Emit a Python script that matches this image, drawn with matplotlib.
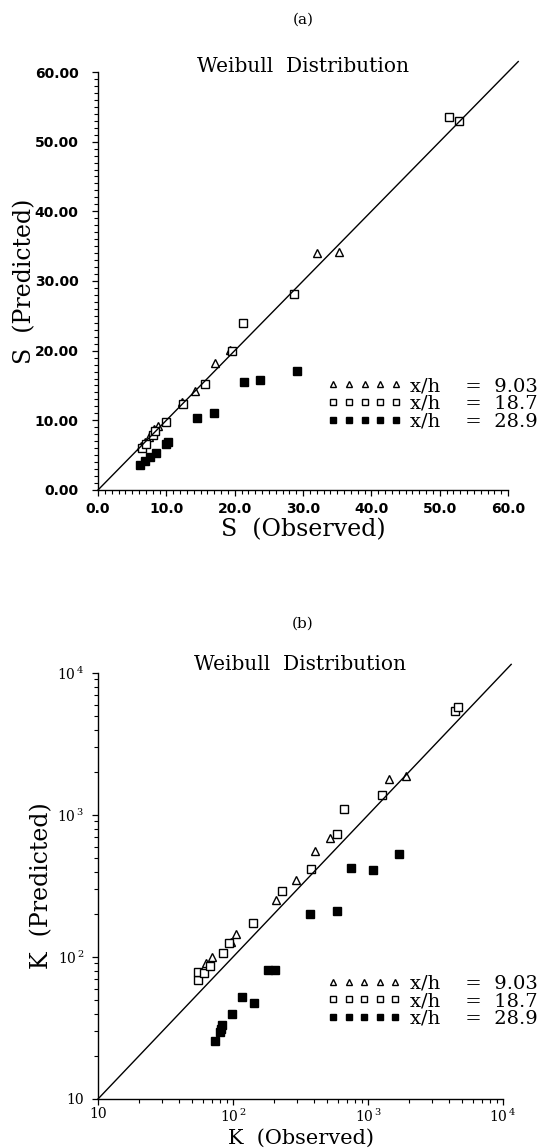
import numpy as np
import matplotlib
matplotlib.use('Agg')
import matplotlib.pyplot as plt
from matplotlib.ticker import MultipleLocator, FormatStrFormatter, LogLocator, FixedLocator, FixedFormatter, NullFormatter

plt.rcParams['mathtext.fontset'] = 'dejavuserif'

# (a) S, observed vs predicted
s_obs_903 = [6.3, 6.9, 7.5, 8.2, 8.8, 12.3, 14.2, 17.1, 19.3, 32.0, 35.3]
s_pred_903 = [6.3, 6.9, 7.6, 8.7, 9.2, 12.6, 14.2, 18.3, 20.1, 34.0, 34.1]
s_obs_187 = [6.4, 7.0, 8.0, 8.3, 9.9, 12.4, 15.7, 19.6, 21.2, 28.7, 51.4, 52.9]
s_pred_187 = [6.1, 6.6, 7.9, 8.5, 9.8, 12.4, 15.2, 19.9, 24.0, 28.1, 53.6, 52.9]
s_obs_289 = [6.2, 6.9, 7.6, 8.5, 10.0, 10.3, 14.5, 17.0, 21.4, 23.7, 29.1]
s_pred_289 = [3.6, 4.2, 4.7, 5.3, 6.6, 6.9, 10.4, 11.0, 15.5, 15.8, 17.1]

# (b) K, observed vs predicted
k_obs_903 = [63, 70, 96, 105, 210, 292, 404, 527, 1426, 1896]
k_pred_903 = [91, 100, 127, 145, 251, 347, 561, 690, 1795, 1875]
k_obs_187 = [55, 55, 61, 67, 85, 93, 141, 229, 381, 585, 665, 1280, 4395, 4645]
k_pred_187 = [69, 79, 77, 87, 107, 125, 174, 290, 417, 739, 1104, 1393, 5370, 5770]
k_obs_289 = [73, 80, 82, 83, 99, 117, 143, 181, 205, 375, 590, 746, 1091, 1698]
k_pred_289 = [25.6, 29.4, 31, 33, 39.7, 52.6, 47.5, 81, 81, 202, 212, 424, 412, 535]

labels = ['x/h    =  9.03', 'x/h    =  18.7', 'x/h    =  28.9']
title = 'Weibull  Distribution'

W, H = 544, 1148
fig = plt.figure(figsize=(W / 100, H / 100), dpi=100)

ax1 = fig.add_axes([98 / W, 1 - 490 / H, 410 / W, 418 / H])
ax2 = fig.add_axes([98 / W, 1 - 1099 / H, 405 / W, 426 / H])


def draw_points(ax, obs, pred):
    ms = 6
    ax.plot(obs[0], pred[0], linestyle='none', marker='^', ms=ms, mfc='white', mec='black', mew=1.0,
            clip_on=False, label=labels[0])
    ax.plot(obs[1], pred[1], linestyle='none', marker='s', ms=ms, mfc='white', mec='black', mew=1.0,
            clip_on=False, label=labels[1])
    ax.plot(obs[2], pred[2], linestyle='none', marker='s', ms=ms, mfc='black', mec='black', mew=1.0,
            clip_on=False, label=labels[2])


def style_axes(ax):
    for side in ['top', 'right']:
        ax.spines[side].set_visible(False)
    for side in ['left', 'bottom']:
        ax.spines[side].set_linewidth(1.0)
    ax.tick_params(which='major', direction='out', length=4, width=0.9)
    ax.tick_params(which='minor', direction='out', length=3, width=0.8)


def add_legend(ax, anchor):
    leg = ax.legend(loc='center left', bbox_to_anchor=anchor, frameon=False, numpoints=5,
                    handlelength=3.8, handletextpad=0.45, labelspacing=-0.02, borderpad=0,
                    borderaxespad=0, markerscale=0.8,
                    prop={'family': 'DejaVu Serif', 'size': 14})
    return leg


# ---- (a) linear ----
draw_points(ax1, [s_obs_903, s_obs_187, s_obs_289], [s_pred_903, s_pred_187, s_pred_289])
ax1.plot([0, 61.5], [0, 61.5], color='black', lw=1.0, clip_on=False)
ax1.set_xlim(0, 60)
ax1.set_ylim(0, 60)
style_axes(ax1)
ax1.xaxis.set_major_locator(MultipleLocator(10))
ax1.xaxis.set_minor_locator(MultipleLocator(1))
ax1.yaxis.set_major_locator(MultipleLocator(10))
ax1.yaxis.set_minor_locator(MultipleLocator(1))
ax1.xaxis.set_major_formatter(FormatStrFormatter('%.1f'))
ax1.yaxis.set_major_formatter(FormatStrFormatter('%.2f'))
for lab in ax1.get_xticklabels() + ax1.get_yticklabels():
    lab.set_fontfamily('DejaVu Sans')
    lab.set_fontweight('bold')
    lab.set_fontsize(10)
ax1.tick_params(axis='x', pad=5)
ax1.tick_params(axis='y', pad=10)

ax1.set_xlabel('S  (Observed)', family='DejaVu Serif', fontsize=17, va='center')
ax1.xaxis.set_label_coords(0.5, -0.096)
ax1.set_ylabel('S  (Predicted)', family='DejaVu Serif', fontsize=17, va='center', ha='center')
ax1.yaxis.set_label_coords(-0.178, 0.5)
ax1.text(0.5, 1.0, title, transform=ax1.transAxes, ha='center', va='baseline',
         family='DejaVu Serif', fontsize=14.5)
add_legend(ax1, (0.56, 0.206))

# ---- (b) log-log ----
draw_points(ax2, [k_obs_903, k_obs_187, k_obs_289], [k_pred_903, k_pred_187, k_pred_289])
ax2.plot([10, 11500], [10, 11500], color='black', lw=1.0, clip_on=False)
ax2.set_xscale('log')
ax2.set_yscale('log')
ax2.set_xlim(10, 1e4)
ax2.set_ylim(10, 1e4)
style_axes(ax2)
decades = [10, 100, 1000, 10000]
dec_labels = ['10', r'$10^{\,2}$', r'$10^{\,3}$', r'$10^{\,4}$']
for axis in [ax2.xaxis, ax2.yaxis]:
    axis.set_major_locator(FixedLocator(decades))
    axis.set_major_formatter(FixedFormatter(dec_labels))
    axis.set_minor_locator(LogLocator(base=10, subs=np.arange(2, 10)))
    axis.set_minor_formatter(NullFormatter())
for lab in ax2.get_xticklabels() + ax2.get_yticklabels():
    lab.set_fontfamily('DejaVu Serif')
    lab.set_fontsize(10)
ax2.tick_params(axis='x', pad=2)
ax2.tick_params(axis='y', pad=6)

ax2.set_xlabel('K  (Observed)', family='DejaVu Serif', fontsize=15, va='center')
ax2.xaxis.set_label_coords(0.5, -0.092)
ax2.set_ylabel('K  (Predicted)', family='DejaVu Serif', fontsize=17, va='center', ha='center')
ax2.yaxis.set_label_coords(-0.138, 0.5)
ax2.text(0.5, 1.008, title, transform=ax2.transAxes, ha='center', va='baseline',
         family='DejaVu Serif', fontsize=14.5)
add_legend(ax2, (0.566, 0.23))

# panel tags
fig.text((98 + 205) / W, 1 - 20 / H, '(a)', ha='center', va='center', family='DejaVu Serif', fontsize=11)
fig.text((98 + 205) / W, 1 - 624 / H, '(b)', ha='center', va='center', family='DejaVu Serif', fontsize=11)

fig.savefig('out.png', dpi=100, facecolor='white')
